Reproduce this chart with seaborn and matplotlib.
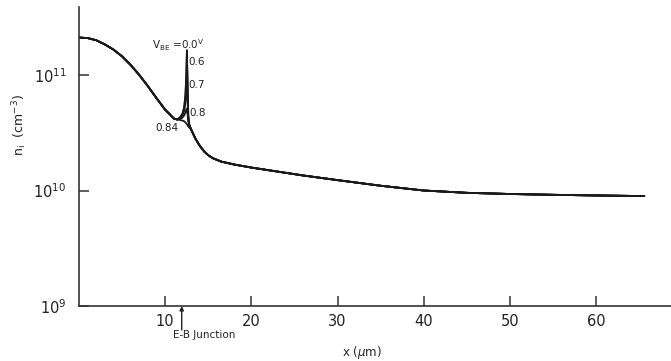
import numpy as np
import pandas as pd
import matplotlib
matplotlib.use("Agg")
import matplotlib.pyplot as plt
from matplotlib.ticker import FixedLocator, NullLocator
import seaborn as sns

# Intrinsic carrier density n_i (cm^-3) versus depth x (um)
# Emitter side, common to all bias values
x_emitter = [0, 1, 2, 3, 4, 5, 6, 7, 8, 9, 10, 10.5, 11]
ni_emitter = [2.11e11, 2.09e11, 2.00e11, 1.84e11, 1.66e11, 1.45e11, 1.22e11,
              1.00e11, 8.0e10, 6.3e10, 5.0e10, 4.6e10, 4.2e10]

# Region around the E-B junction, one curve per V_BE
x_junction = [11.4, 11.7, 12.0, 12.2, 12.35, 12.45, 12.52, 12.6, 12.68, 12.8, 13.0]
vbe_values = ["0.0", "0.6", "0.7", "0.8", "0.84"]
ni_vbe_00 = [4.12e10, 4.27e10, 4.62e10, 5.25e10, 6.76e10, 1.00e11, 1.64e11, 8.91e10, 4.47e10, 3.72e10, 3.39e10]
ni_vbe_06 = [4.12e10, 4.27e10, 4.57e10, 5.13e10, 6.46e10, 9.33e10, 1.48e11, 8.32e10, 4.37e10, 3.72e10, 3.39e10]
ni_vbe_07 = [4.12e10, 4.22e10, 4.47e10, 4.90e10, 5.75e10, 7.08e10, 8.51e10, 6.03e10, 4.17e10, 3.67e10, 3.39e10]
ni_vbe_08 = [4.12e10, 4.17e10, 4.27e10, 4.47e10, 4.73e10, 5.01e10, 5.13e10, 4.57e10, 3.98e10, 3.63e10, 3.39e10]
ni_vbe_084 = [4.12e10, 4.09e10, 4.03e10, 3.98e10, 3.89e10, 3.80e10, 3.76e10, 3.67e10, 3.59e10, 3.51e10, 3.39e10]

# Base / collector side, common to all bias values
x_base = [13.5, 14.0, 14.5, 15.0, 15.5, 16.5, 18, 20, 23, 26, 30, 35, 40, 45, 50, 55, 60, 65.6]
ni_base = [2.82e10, 2.45e10, 2.19e10, 2.02e10, 1.91e10, 1.78e10, 1.68e10, 1.58e10, 1.46e10,
           1.35e10, 1.23e10, 1.10e10, 1.00e10, 9.55e9, 9.33e9, 9.18e9, 9.06e9, 8.95e9]

x_ticks = [10, 20, 30, 40, 50, 60]
y_ticks = [1e9, 1e10, 1e11]

junction_curves = dict(zip(vbe_values, [ni_vbe_00, ni_vbe_06, ni_vbe_07, ni_vbe_08, ni_vbe_084]))
frames = []
for v, ni_j in junction_curves.items():
    frames.append(pd.DataFrame({
        "x": x_emitter + x_junction + x_base,
        "ni": ni_emitter + ni_j + ni_base,
        "vbe": v,
    }))
df = pd.concat(frames, ignore_index=True)

sns.set_style("ticks")
plt.rcParams["font.family"] = ["DejaVu Sans"]

fig = plt.figure(figsize=(6.71, 3.61), dpi=100)
ax = fig.add_axes([79 / 671, 1 - 306 / 361, 592 / 671, 299 / 361])

sns.lineplot(data=df, x="x", y="ni", hue="vbe", units="vbe", estimator=None, sort=False,
             palette=["#1a1a1a"] * len(vbe_values), legend=False, linewidth=1.3, ax=ax)

ax.set_yscale("log")
ax.set_xlim(0, 68.7)
ax.set_ylim(1e9, 10 ** 11.589)
ax.xaxis.set_major_locator(FixedLocator(x_ticks))
ax.yaxis.set_major_locator(FixedLocator(y_ticks))
ax.yaxis.set_minor_locator(NullLocator())
ax.xaxis.set_minor_locator(NullLocator())
ax.tick_params(axis="both", direction="in", length=7, width=1.1, color="#333333",
               labelsize=10.5, labelcolor="#222222")
ax.tick_params(axis="x", pad=6)
ax.tick_params(axis="y", pad=9)

for side in ("top", "right"):
    ax.spines[side].set_visible(False)
for side in ("left", "bottom"):
    ax.spines[side].set_linewidth(1.2)
    ax.spines[side].set_color("#333333")

ax.set_xlabel(r"x ($\mu$m)", fontsize=8.5, color="#222222", va="center")
ax.xaxis.set_label_coords(0.478, -0.156)
ax.set_ylabel(r"n$_\mathrm{i}$  (cm$^{-3}$)", fontsize=9, color="#222222", va="center")
ax.yaxis.set_label_coords(-0.10, 0.605)

# Bias labels next to the junction peaks
txt = dict(fontsize=7.5, color="#222222", va="center")
ax.text(11.55, 1.82e11, r"$\mathrm{V_{BE}}$ =0.0$^{\mathrm{V}}$", ha="center", **txt)
ax.text(12.75, 1.29e11, "0.6", ha="left", **txt)
ax.text(12.75, 8.2e10, "0.7", ha="left", **txt)
ax.text(12.85, 4.7e10, "0.8", ha="left", **txt)
ax.text(11.6, 3.48e10, "0.84", ha="right", **txt)

# Junction marker below the axis
ax.annotate("", xy=(11.92, 0.0), xycoords=("data", "axes fraction"),
            xytext=(11.92, -0.08), textcoords=("data", "axes fraction"),
            arrowprops=dict(arrowstyle="-|>", color="#222222", lw=1.0,
                            mutation_scale=6, shrinkA=0, shrinkB=0))
ax.text(10.9, -0.097, "E-B Junction", transform=ax.get_xaxis_transform(),
        fontsize=7.5, color="#222222", ha="left", va="center")

fig.savefig("out.png", dpi=100, facecolor="white")
